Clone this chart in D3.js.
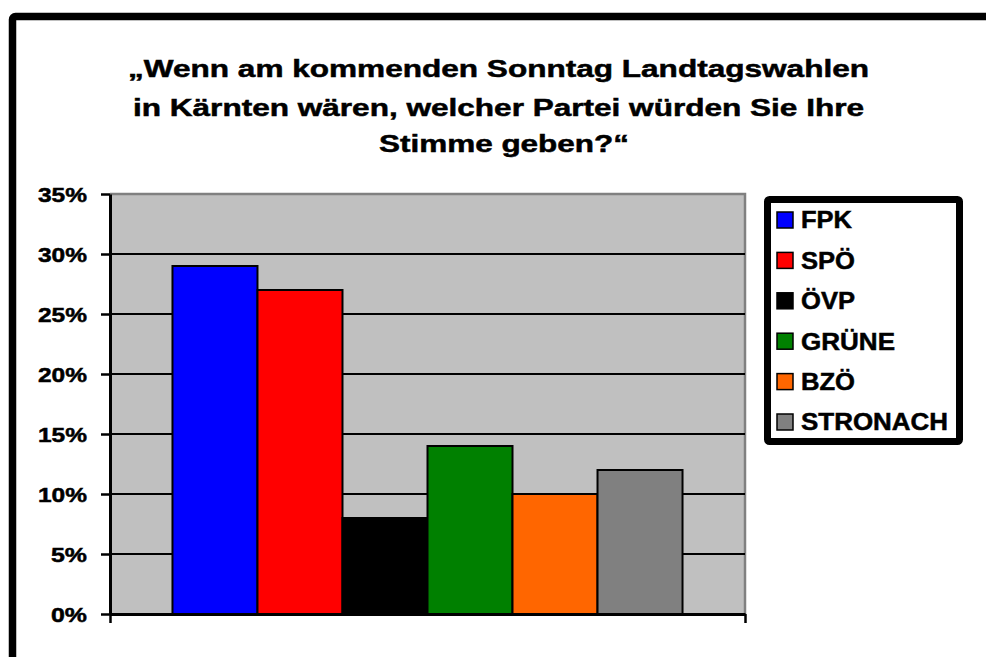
<!DOCTYPE html>
<html>
<head>
<meta charset="utf-8">
<script src="https://cdn.jsdelivr.net/npm/d3@7"></script>
<style>
  html, body { margin: 0; padding: 0; background: #fff; }
  svg text { font-family: "Liberation Sans", Arial, Helvetica, sans-serif; font-weight: bold; fill: #000; stroke: #000; stroke-width: 0.5px; }
</style>
</head>
<body>
<svg id="chart" width="986" height="657"></svg>
<script>
// ---- data ----
const titleLines = ["„Wenn am kommenden Sonntag Landtagswahlen", "in Kärnten wären, welcher Partei würden Sie Ihre", "Stimme geben?“"];
const parties = ["FPK", "SPÖ", "ÖVP", "GRÜNE", "BZÖ", "STRONACH"];
const shares = [29, 27, 8, 14, 10, 12];
const colors = ["#0000FF", "#FF0000", "#000000", "#008000", "#FF6600", "#808080"];
const yTicks = [0, 5, 10, 15, 20, 25, 30, 35];

// ---- layout ----
const svg = d3.select("#chart");
const plot = { left: 110, right: 745, top: 194, bottom: 614 };

function fitWidth(sel, widthFn) {
  sel.attr("textLength", widthFn).attr("lengthAdjust", "spacingAndGlyphs");
}

// outer frame (extends past right and bottom edges)
svg.append("rect")
  .attr("x", 12.5).attr("y", 16.5)
  .attr("width", 1100).attr("height", 800)
  .attr("rx", 3)
  .attr("fill", "#fff").attr("stroke", "#000").attr("stroke-width", 7.5);

// title
const titleX = [128, 133, 379];
const titleW = [741, 731, 250];
const titleY = [77, 116, 152];
titleLines.forEach((t, i) => {
  svg.append("text")
    .attr("x", titleX[i]).attr("y", titleY[i])
    .style("font-size", "24px")
    .attr("textLength", titleW[i]).attr("lengthAdjust", "spacingAndGlyphs")
    .text(t);
});

// scales
const y = d3.scaleLinear().domain([0, 35]).range([plot.bottom, plot.top]);
const x = d3.scaleBand().domain(parties).range([plot.left, plot.right])
  .paddingInner(0).paddingOuter(0.735);

// plot background
svg.append("rect")
  .attr("x", plot.left).attr("y", plot.top)
  .attr("width", plot.right - plot.left).attr("height", plot.bottom - plot.top)
  .attr("fill", "#C0C0C0");

// plot border (top & right, gray)
svg.append("path")
  .attr("d", `M${plot.left},${plot.top}H${plot.right}V${plot.bottom}`)
  .attr("fill", "none").attr("stroke", "#808080").attr("stroke-width", 2.5);

// gridlines
svg.append("g").selectAll("line")
  .data(yTicks.filter(d => d > 0 && d < 35))
  .join("line")
  .attr("x1", plot.left).attr("x2", plot.right)
  .attr("y1", d => y(d)).attr("y2", d => y(d))
  .attr("stroke", "#000").attr("stroke-width", 2);

// bars
svg.append("g").selectAll("rect")
  .data(parties)
  .join("rect")
  .attr("x", d => x(d))
  .attr("y", (d, i) => y(shares[i]))
  .attr("width", x.bandwidth())
  .attr("height", (d, i) => y(0) - y(shares[i]))
  .attr("fill", (d, i) => colors[i])
  .attr("stroke", "#000").attr("stroke-width", 2);

// y axis
const yAxis = d3.axisLeft(y).tickValues(yTicks).tickFormat(d => d + "%").tickSizeInner(9).tickSizeOuter(0).tickPadding(14);
const gy = svg.append("g").attr("transform", `translate(${plot.left},0)`).call(yAxis);
gy.select(".domain").attr("stroke", "#000").attr("stroke-width", 3);
gy.selectAll(".tick line").attr("stroke", "#000").attr("stroke-width", 2.5);
gy.selectAll(".tick text")
  .attr("font-family", null).attr("font-size", null)
  .style("font-size", "21px")
  .attr("dy", "0.38em")
  .call(fitWidth, d => String(d).length === 1 ? 36 : 49);

// x axis (no labels, ticks at edges)
const xEdge = d3.scaleLinear().domain([0, 1]).range([plot.left, plot.right]);
const xAxis = d3.axisBottom(xEdge).tickValues([0, 1]).tickFormat("").tickSizeInner(9).tickSizeOuter(0);
const gx = svg.append("g").attr("transform", `translate(0,${plot.bottom})`).call(xAxis);
gx.select(".domain").attr("stroke", "#000").attr("stroke-width", 3);
gx.selectAll(".tick line").attr("stroke", "#000").attr("stroke-width", 2.5);

// legend
const legendW = [51, 54, 54, 94, 54, 147];
const legend = svg.append("g");
legend.append("rect")
  .attr("x", 767.5).attr("y", 199.5).attr("width", 192).attr("height", 242)
  .attr("rx", 2)
  .attr("fill", "#fff").attr("stroke", "#000").attr("stroke-width", 7);
const rowY = d3.scalePoint().domain(parties).range([220, 422]);
const items = legend.selectAll("g.item").data(parties).join("g").attr("class", "item")
  .attr("transform", d => `translate(0,${rowY(d)})`);
items.append("rect")
  .attr("x", 777).attr("y", -8).attr("width", 16).attr("height", 16)
  .attr("fill", (d, i) => colors[i])
  .attr("stroke", "#000").attr("stroke-width", 1.5);
items.append("text")
  .attr("x", 801).attr("y", 0).attr("dy", "0.36em")
  .style("font-size", "23.5px")
  .text(d => d)
  .call(fitWidth, (d, i) => legendW[i]);
</script>
</body>
</html>
